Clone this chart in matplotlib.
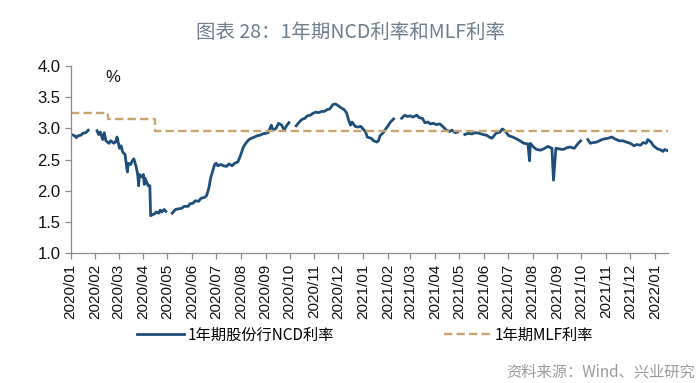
import numpy as np
import pandas as pd
import matplotlib
matplotlib.use("Agg")
import matplotlib.pyplot as plt
import matplotlib.dates as mdates

plt.rcParams['font.family'] = ['Noto Sans CJK SC', 'DejaVu Sans']

title = "图表 28：1年期NCD利率和MLF利率"
source = "资料来源：Wind、兴业研究"
ncd_label = "1年期股份行NCD利率"
mlf_label = "1年期MLF利率"

# 1年期股份行NCD利率 (None = 假期断点)
ncd_dates = [
    "2020-01-02", "2020-01-06", "2020-01-08", "2020-01-10", "2020-01-14", "2020-01-16",
    "2020-01-20", "2020-01-23", "2020-01-28",
    "2020-02-03", "2020-02-05", "2020-02-07", "2020-02-10", "2020-02-12", "2020-02-14",
    "2020-02-18", "2020-02-20", "2020-02-24", "2020-02-26", "2020-02-28",
    "2020-03-02", "2020-03-04", "2020-03-06", "2020-03-09", "2020-03-11", "2020-03-12",
    "2020-03-13", "2020-03-16", "2020-03-18", "2020-03-20", "2020-03-23", "2020-03-25",
    "2020-03-26", "2020-03-27", "2020-03-30",
    "2020-04-01", "2020-04-02", "2020-04-03", "2020-04-07", "2020-04-09", "2020-04-10",
    "2020-04-13", "2020-04-15", "2020-04-17", "2020-04-20", "2020-04-22", "2020-04-24",
    "2020-04-27", "2020-04-29", "2020-05-01",
    "2020-05-07", "2020-05-11", "2020-05-15", "2020-05-19", "2020-05-22", "2020-05-27",
    "2020-05-29",
    "2020-06-02", "2020-06-05", "2020-06-09", "2020-06-12", "2020-06-16", "2020-06-19",
    "2020-06-22", "2020-06-24", "2020-06-29",
    "2020-07-01", "2020-07-03", "2020-07-07", "2020-07-10", "2020-07-14", "2020-07-17",
    "2020-07-21", "2020-07-24", "2020-07-28", "2020-07-31",
    "2020-08-04", "2020-08-07", "2020-08-11", "2020-08-14", "2020-08-18", "2020-08-21",
    "2020-08-25", "2020-08-28",
    "2020-09-01", "2020-09-04", "2020-09-08", "2020-09-10", "2020-09-14", "2020-09-17",
    "2020-09-21", "2020-09-24", "2020-09-27", "2020-09-30", "2020-10-04",
    "2020-10-09", "2020-10-13", "2020-10-16", "2020-10-20", "2020-10-23", "2020-10-27",
    "2020-10-30",
    "2020-11-03", "2020-11-06", "2020-11-10", "2020-11-13", "2020-11-17", "2020-11-20",
    "2020-11-24", "2020-11-27",
    "2020-12-01", "2020-12-04", "2020-12-08", "2020-12-11", "2020-12-14", "2020-12-16",
    "2020-12-18", "2020-12-22", "2020-12-25", "2020-12-29",
    "2021-01-04", "2021-01-06", "2021-01-11", "2021-01-14", "2021-01-18", "2021-01-20",
    "2021-01-22", "2021-01-26", "2021-01-28",
    "2021-02-01", "2021-02-04", "2021-02-08", "2021-02-11",
    "2021-02-18", "2021-02-22", "2021-02-25",
    "2021-03-01", "2021-03-04", "2021-03-09", "2021-03-12", "2021-03-16", "2021-03-19",
    "2021-03-23", "2021-03-26", "2021-03-30",
    "2021-04-02", "2021-04-07", "2021-04-12", "2021-04-15", "2021-04-19", "2021-04-22",
    "2021-04-26", "2021-04-29", "2021-05-03",
    "2021-05-08", "2021-05-12", "2021-05-17", "2021-05-21", "2021-05-26", "2021-05-31",
    "2021-06-04", "2021-06-09", "2021-06-11", "2021-06-16", "2021-06-21", "2021-06-24",
    "2021-06-28",
    "2021-07-02", "2021-07-07", "2021-07-12", "2021-07-16", "2021-07-21", "2021-07-26",
    "2021-07-28", "2021-07-29",
    "2021-08-02", "2021-08-06", "2021-08-11", "2021-08-16", "2021-08-20", "2021-08-25",
    "2021-08-27", "2021-08-30",
    "2021-09-03", "2021-09-08", "2021-09-13", "2021-09-17", "2021-09-22", "2021-09-27",
    "2021-09-30", "2021-10-04",
    "2021-10-09", "2021-10-12", "2021-10-15", "2021-10-20", "2021-10-25", "2021-10-29",
    "2021-11-03", "2021-11-08", "2021-11-12", "2021-11-17", "2021-11-22", "2021-11-26",
    "2021-12-01", "2021-12-06", "2021-12-09", "2021-12-14", "2021-12-17", "2021-12-21",
    "2021-12-23", "2021-12-27", "2021-12-30",
    "2022-01-04", "2022-01-07", "2022-01-11", "2022-01-13", "2022-01-17",
]
ncd_values = [
    2.90, 2.88, 2.85, 2.88, 2.89, 2.92,
    2.93, 2.97, None,
    2.96, 2.90, 2.94, 2.82, 2.93, 2.80,
    2.76, 2.80, 2.76, 2.78, 2.86,
    2.68, 2.72, 2.62, 2.58, 2.38, 2.30,
    2.44, 2.42, 2.48, 2.51, 2.38, 2.24,
    2.08, 2.26, 2.22,
    2.26, 2.10, 2.20, 2.08, 2.08, 1.60,
    1.62, 1.63, 1.66, 1.64, 1.69, 1.66,
    1.70, 1.67, None,
    1.64, 1.70, 1.71, 1.72, 1.75, 1.75,
    1.79,
    1.80, 1.84, 1.83, 1.88, 1.89, 1.92,
    2.05, 2.20, 2.42,
    2.44, 2.40, 2.42, 2.40, 2.39, 2.43,
    2.40, 2.44, 2.46, 2.55,
    2.70, 2.76, 2.82, 2.84, 2.86, 2.88,
    2.89, 2.91,
    2.92, 2.93, 3.05, 2.97, 3.00, 3.08,
    3.05, 2.97, 3.04, 3.09, None,
    3.04, 3.10, 3.14, 3.16, 3.20, 3.21,
    3.24,
    3.26, 3.25, 3.27, 3.27, 3.30, 3.31,
    3.38, 3.39,
    3.36, 3.33, 3.30, 3.25, 3.12, 3.05,
    3.10, 3.03, 3.02, 3.03,
    2.94, 2.86, 2.84, 2.80, 2.78, 2.80,
    2.88, 2.93, 2.97,
    3.04, 3.10, 3.15, None,
    3.16, 3.21, 3.19,
    3.20, 3.18, 3.21, 3.17, 3.16, 3.09,
    3.10, 3.07, 3.08,
    3.06, 3.07, 3.01, 2.97, 2.95, 2.97,
    2.93, 2.94, None,
    2.90, 2.92, 2.91, 2.93, 2.92, 2.90,
    2.89, 2.85, 2.84, 2.92, 2.94, 2.99,
    2.95,
    2.88, 2.86, 2.83, 2.80, 2.76, 2.75,
    2.48, 2.76,
    2.70, 2.66, 2.65, 2.68, 2.71, 2.68,
    2.17, 2.68,
    2.67, 2.66, 2.69, 2.70, 2.68, 2.76,
    2.80, None,
    2.82, 2.76, 2.77, 2.78, 2.81, 2.83,
    2.84, 2.86, 2.83, 2.80, 2.80, 2.78,
    2.76, 2.72, 2.74, 2.73, 2.77, 2.76,
    2.82, 2.78, 2.72,
    2.67, 2.66, 2.63, 2.66, 2.64,
]

# 1年期MLF利率 (调整日)
mlf_dates = ["2020-01-02", "2020-02-17", "2020-04-15", "2022-01-17"]
mlf_values = [3.25, 3.15, 2.95, 2.95]

x_start = "2020-01-01"
x_end = "2022-01-17"


def main():
    fig = plt.figure(figsize=(7, 3.83), dpi=100)
    ax = fig.add_axes([0.101, 0.339, 0.853, 0.489])

    x = pd.to_datetime(ncd_dates)
    y = np.array([np.nan if v is None else v for v in ncd_values], dtype=float)
    ax.plot(x, y, color="#1f4e79", lw=2.0, label=ncd_label)

    ax.plot(pd.to_datetime(mlf_dates), mlf_values, color="#c8a46e", lw=1.7,
            dashes=(3.5, 1.8), drawstyle="steps-post", label=mlf_label)

    ax.set_xlim(pd.Timestamp(x_start), pd.Timestamp(x_end))
    ax.set_ylim(1.0, 4.0)
    ax.set_yticks(np.arange(1.0, 4.01, 0.5))
    ax.yaxis.set_major_formatter(plt.FuncFormatter(lambda v, p: "%.1f" % v))
    ax.xaxis.set_major_locator(mdates.MonthLocator())
    ax.xaxis.set_major_formatter(mdates.DateFormatter("%Y/%m"))

    for s in ["top", "right"]:
        ax.spines[s].set_visible(False)
    for s in ["left", "bottom"]:
        ax.spines[s].set_color("#8c8c8c")
        ax.spines[s].set_linewidth(0.9)
    ax.tick_params(axis="both", colors="#8c8c8c", length=4, width=0.9,
                   labelcolor="#111111", labelfontfamily="Liberation Sans")
    ax.tick_params(axis="x", labelrotation=90, labelsize=11)
    ax.tick_params(axis="y", labelsize=12)

    ax.text(0.07, 0.936, "%", transform=ax.transAxes, fontsize=12,
            family="Liberation Sans", ha="center", va="center", color="#111111")

    fig.text(0.5, 1 - 32 / 383, title, ha="center", va="center",
             fontsize=14, color="#6f7d8e")

    fig.legend(loc="center", bbox_to_anchor=(365 / 700, 1 - 335 / 383), ncol=2,
               frameon=False, fontsize=11, handlelength=3.1, handletextpad=0.2,
               columnspacing=7.2)

    fig.text(0.993, 1 - 372 / 383, source, ha="right", va="center",
             fontsize=11, color="#9a9a9a")

    fig.savefig("out.png", dpi=100)


if __name__ == '__main__':
    main()
